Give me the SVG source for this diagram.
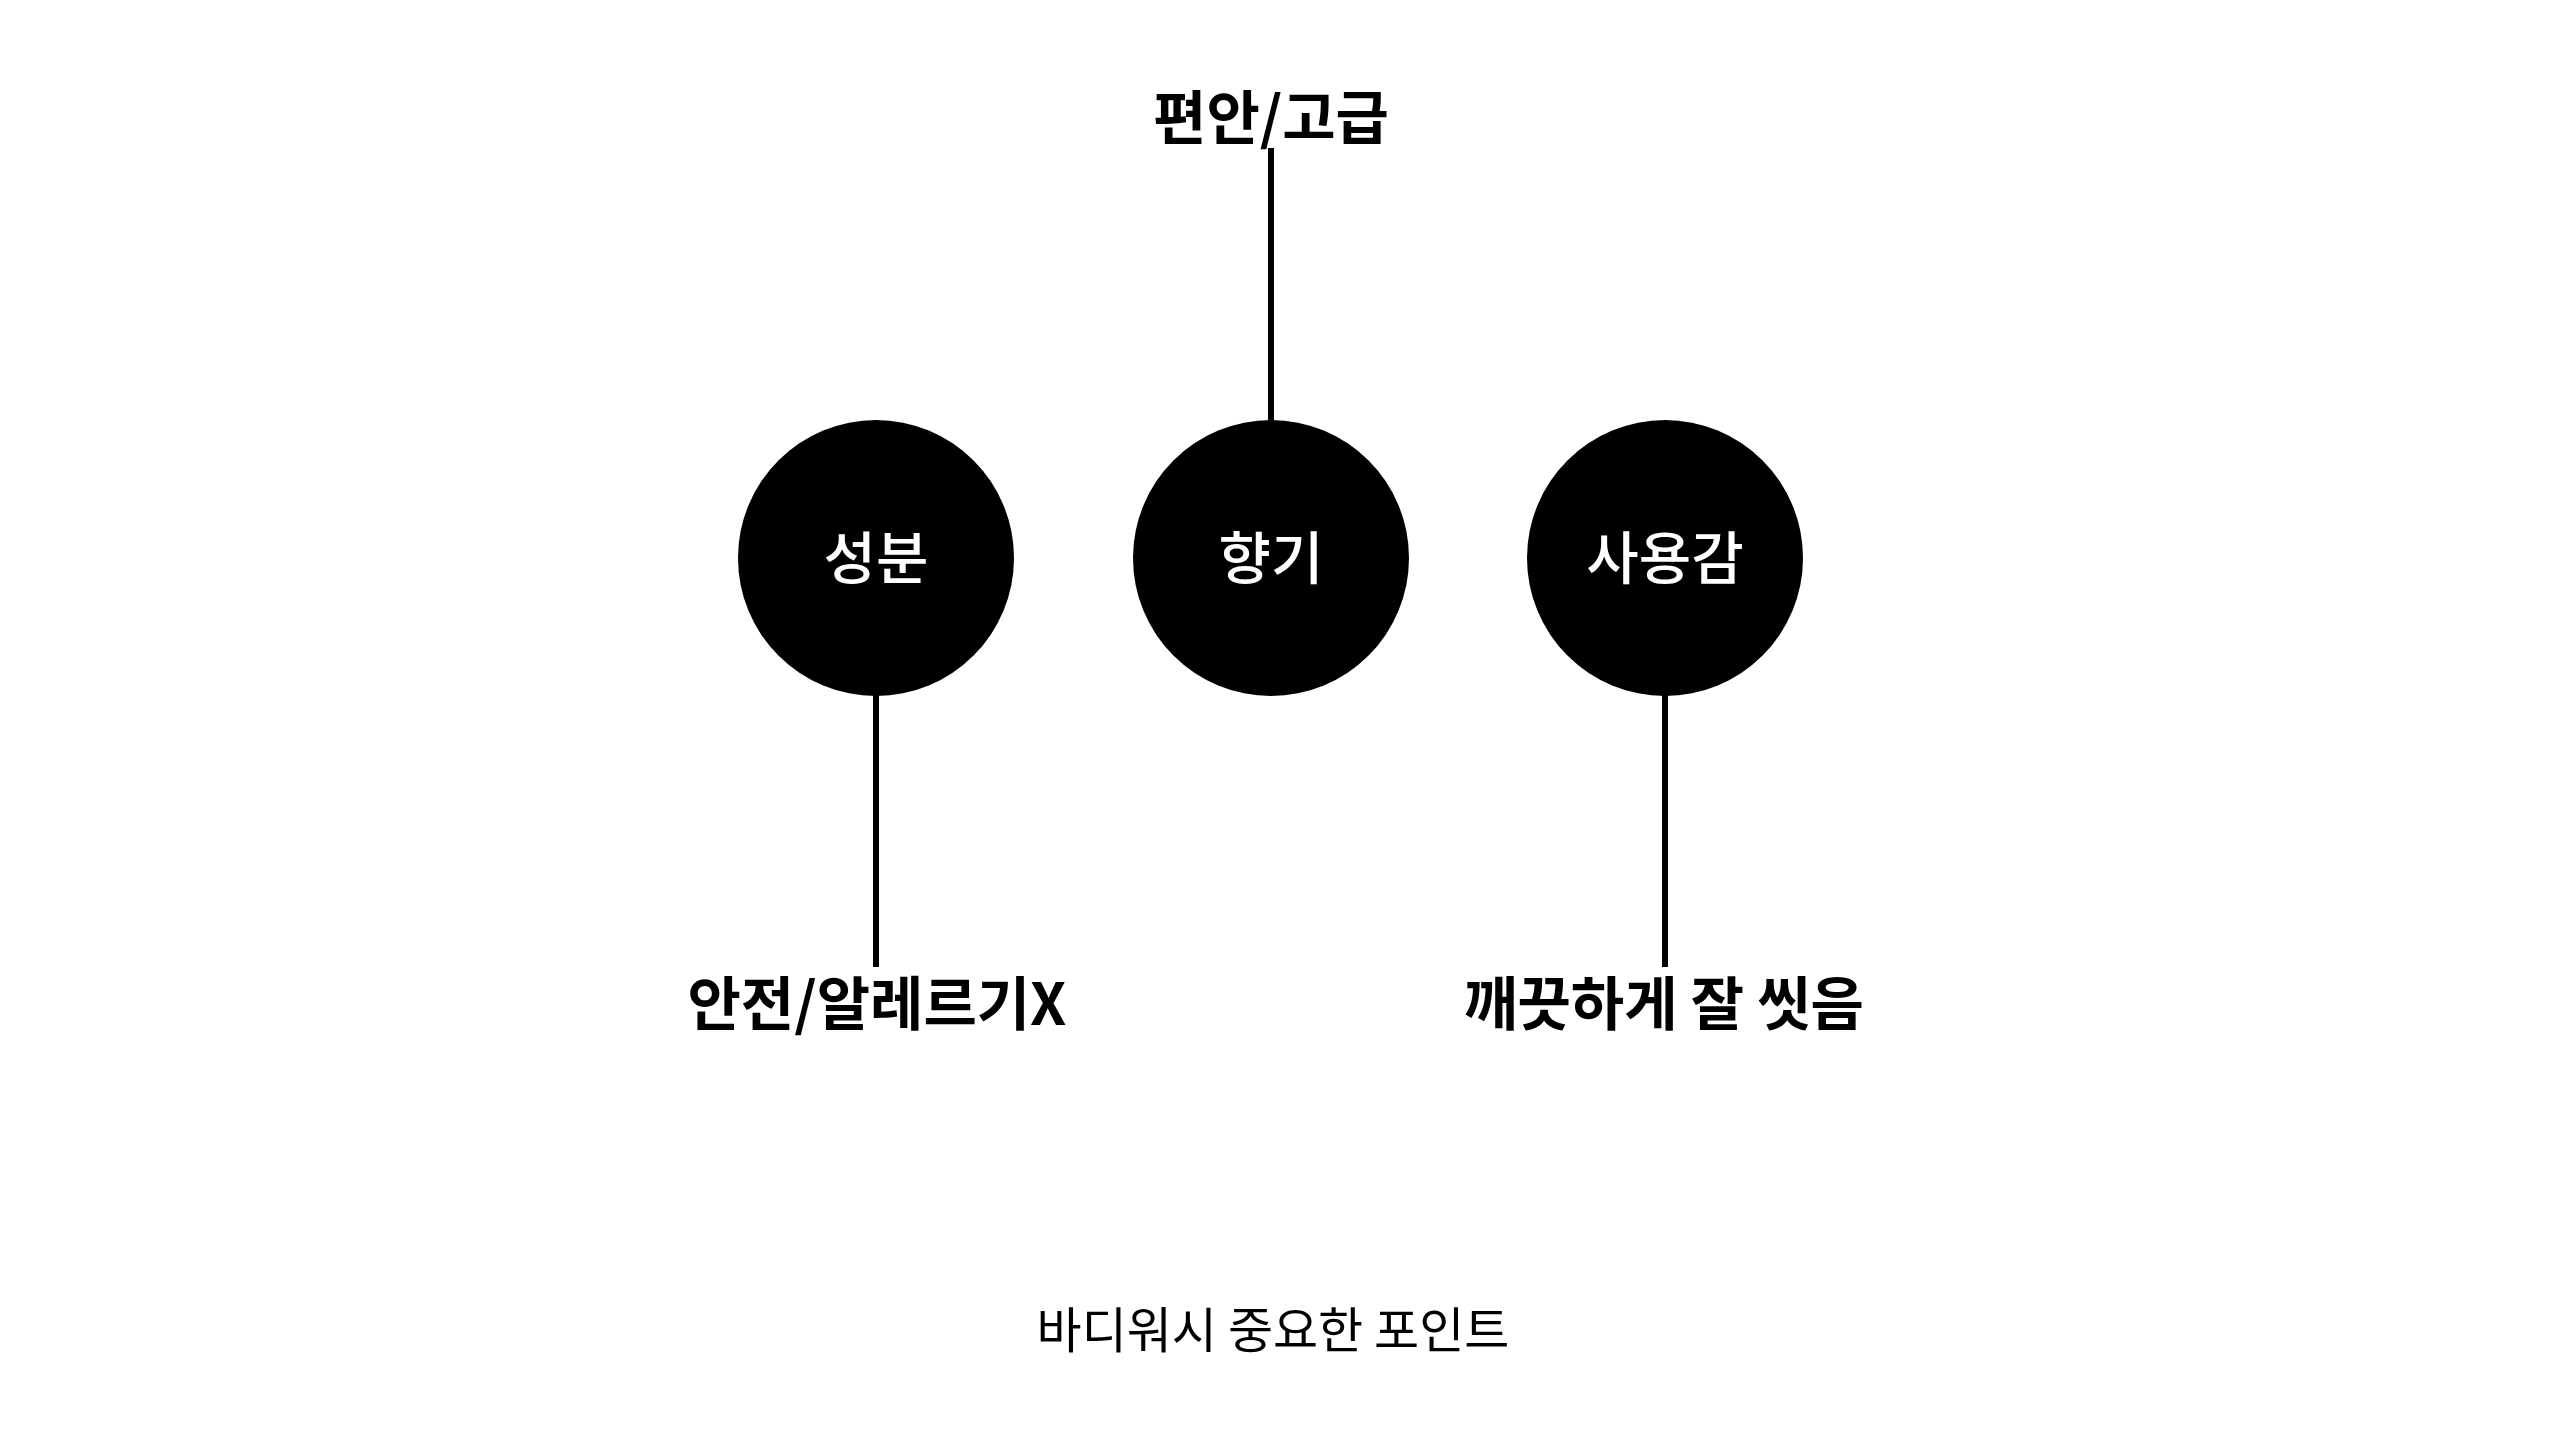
<svg xmlns="http://www.w3.org/2000/svg" width="2551" height="1435" viewBox="0 0 2551 1435">
<style>
.node{fill:#000}
.ntext{font-family:"Noto Sans CJK KR","Noto Sans",sans-serif;font-size:57px;font-weight:500;fill:#fff;text-anchor:middle}
.label{font-family:"Noto Sans CJK KR","Noto Sans",sans-serif;font-size:58px;font-weight:700;fill:#000;text-anchor:middle}
.title{font-family:"Noto Sans CJK KR","Noto Sans",sans-serif;font-size:49px;font-weight:400;fill:#000;text-anchor:middle}
.conn{stroke:#000;stroke-width:6;fill:none}
</style>
<rect width="2551" height="1435" fill="#fff"/>
<g id="connectors">
<line class="conn" x1="1271" y1="148" x2="1271" y2="422"/>
<line class="conn" x1="876" y1="694" x2="876" y2="967"/>
<line class="conn" x1="1665" y1="694" x2="1665" y2="967"/>
</g>
<g id="node-seongbun">
<circle class="node" cx="876" cy="558" r="138"/>
<text class="ntext" x="876" y="579">성분</text>
</g>
<g id="node-hyanggi">
<circle class="node" cx="1271" cy="558" r="138"/>
<text class="ntext" x="1271" y="579">향기</text>
</g>
<g id="node-sayonggam">
<circle class="node" cx="1665" cy="558" r="138"/>
<text class="ntext" x="1665" y="579">사용감</text>
</g>
<g id="label-top">
<text class="label" x="1271" y="139">편안/고급</text>
</g>
<g id="label-left">
<text class="label" x="877" y="1025">안전/알레르기X</text>
</g>
<g id="label-right">
<text class="label" x="1664" y="1025">깨끗하게 잘 씻음</text>
</g>
<g id="title">
<text class="title" x="1273" y="1348">바디워시 중요한 포인트</text>
</g>
</svg>
